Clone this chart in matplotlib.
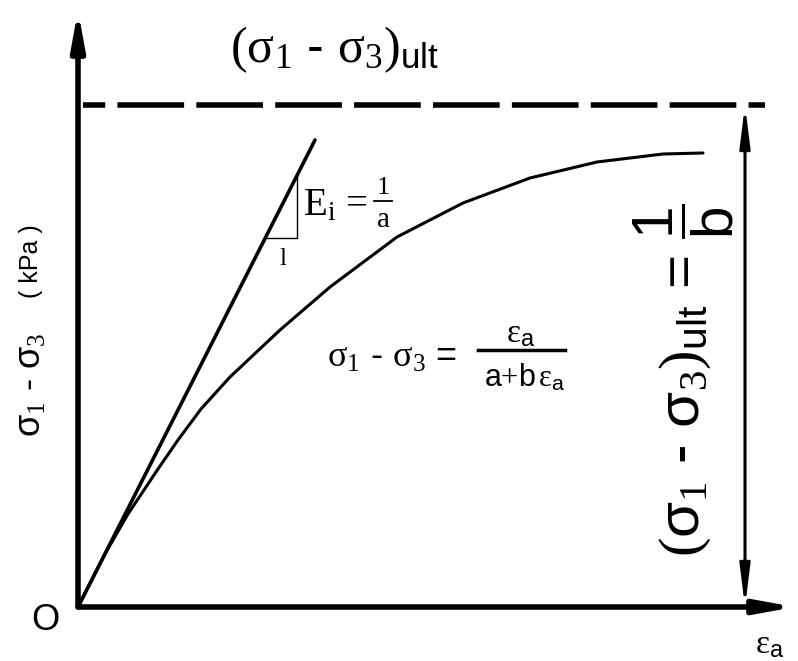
import matplotlib.pyplot as plt
from matplotlib.patches import FancyArrowPatch

plt.rcParams['font.family'] = ['Liberation Sans', 'DejaVu Sans']
plt.rcParams['mathtext.fontset'] = 'custom'
plt.rcParams['mathtext.rm'] = 'Liberation Serif'
plt.rcParams['mathtext.it'] = 'Liberation Serif:italic'
plt.rcParams['mathtext.sf'] = 'Liberation Sans'

# 双曲线应力-应变关系 (示意)
strain = [0, 27, 50, 62, 80, 100, 123, 152, 202, 252, 319, 385, 452, 519, 585, 625]
stress = [0, 53, 93, 111, 138, 167, 198, 230, 277, 320, 370, 404, 429, 445, 453, 454]

# 初始切线 E_i = 1/a
tangent_x = [0, 237]
tangent_y = [0, 467]
# 切线上的小三角形
tri_x = [187, 219, 219]
tri_y = [369, 369, 431]

ult = 502          # 渐近线 (σ1-σ3)ult = 1/b
ult_x = [5, 687]
x_end = 717
y_end = 597
arrow_x = 667

fig = plt.figure(figsize=(7.98, 6.61), dpi=100)
ax = fig.add_axes([0, 0, 1, 1])
ax.set_xlim(-78, 720)
ax.set_ylim(-54, 607)
ax.axis('off')

# 坐标轴
for xy in [(0, y_end), (x_end, 0)]:
    ax.add_patch(FancyArrowPatch((0, 0), xy, arrowstyle='-|>,head_length=1.1,head_width=0.2',
                                 mutation_scale=20, lw=4, color='black',
                                 shrinkA=0, shrinkB=0))

# 渐近线
ax.plot(ult_x, [ult, ult], color='black', lw=4, linestyle=(8, (12, 2.2)),
        solid_capstyle='butt', dash_capstyle='butt')

# 双箭头
ax.add_patch(FancyArrowPatch((arrow_x, 0), (arrow_x, ult),
                             arrowstyle='<|-|>,head_length=1.2,head_width=0.15',
                             mutation_scale=20, lw=2.2, color='black',
                             shrinkA=0, shrinkB=0))

ax.plot(tangent_x, tangent_y, color='black', lw=2.6, solid_capstyle='round')
ax.plot(strain, stress, color='black', lw=2.2, solid_capstyle='round',
        solid_joinstyle='round')
ax.plot(tri_x, tri_y, color='black', lw=1.0)

ax.text(256, 557, r'$(\mathrm{\sigma}_1$ - $\mathrm{\sigma}_3)_{\mathsf{ult}}$',
        fontsize=36, ha='center', va='center')

# E_i = 1/a
ax.text(225, 402, r'$\mathrm{E_i}\,=$', fontsize=28, ha='left', va='center')
ax.text(305, 419, '1', fontsize=19, ha='center', va='center', family='Liberation Serif')
ax.plot([296, 314], [406, 406], color='black', lw=1.3)
ax.text(305, 387, 'a', fontsize=21, ha='center', va='center', family='Liberation Serif')
ax.text(205, 349, r'$\mathrm{l}$', fontsize=18, ha='center', va='center')

ax.text(249, 250, r'$\mathrm{\sigma}_1$ - $\mathrm{\sigma}_3$ =', fontsize=26,
        ha='left', va='center')
ax.text(443, 273, r'$\mathrm{\varepsilon}_{\mathsf{a}}$', fontsize=24, ha='center', va='center')
ax.plot([400, 487], [257, 257], color='black', lw=2.5)
ax.text(447, 229, r'a$+$b$\,\mathrm{\varepsilon}_{\mathsf{a}}$', fontsize=22,
        ha='center', va='center')

ax.text(606, 227, r'$(\mathsf{\sigma}_1$ - $\mathsf{\sigma}_3)_{\mathsf{ult}}$ = $\dfrac{\mathsf{1}}{\mathsf{b}}$',
        fontsize=42, ha='center', va='center', rotation=90)

# 纵轴标题
ax.text(-47, 222, r'$\mathsf{\sigma}_1$ - $\mathsf{\sigma}_3$', fontsize=26,
        ha='center', va='center', rotation=90)
ax.text(-47, 346, '( kPa )', fontsize=18, ha='center', va='center', rotation=90)
ax.text(-33, -13, 'O', fontsize=26, ha='center', va='center')
ax.text(677, -38, r'$\mathrm{\varepsilon}_{\mathsf{a}}$', fontsize=24, ha='left', va='center')

fig.savefig('out.png', dpi=100)
